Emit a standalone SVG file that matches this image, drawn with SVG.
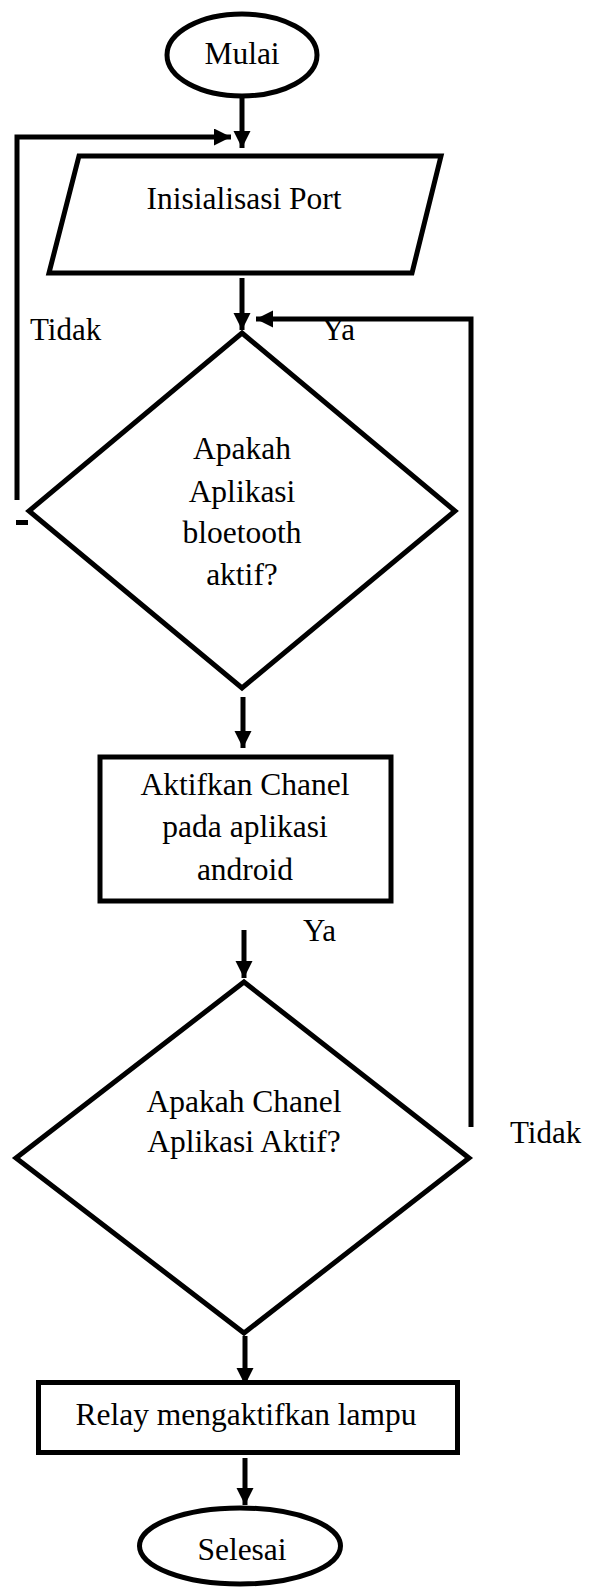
<svg xmlns="http://www.w3.org/2000/svg" width="589" height="1588" viewBox="0 0 589 1588">
<defs>
<marker id="ah" markerUnits="userSpaceOnUse" markerWidth="18" markerHeight="18" refX="17" refY="8.5" orient="auto">
<path d="M0,0 L17,8.5 L0,17 Z" fill="#000"/>
</marker>
<style>
.s{fill:#fff;stroke:#000;stroke-width:5}
.c{fill:none;stroke:#000;stroke-width:5}
.t{font-family:"Liberation Serif","Times New Roman",serif;font-size:31.5px;fill:#000;text-anchor:middle}
.l{font-family:"Liberation Serif","Times New Roman",serif;font-size:31px;fill:#000}
</style>
</defs>
<rect width="589" height="1588" fill="#fff"/>
<g id="connectors">
<line class="c" x1="242" y1="98" x2="242" y2="148" marker-end="url(#ah)"/>
<polyline class="c" points="17,500 17,137 231,137" marker-end="url(#ah)"/>
<rect x="16" y="520" width="12" height="5" fill="#000"/>
<line class="c" x1="242" y1="278" x2="242" y2="330" marker-end="url(#ah)"/>
<polyline class="c" points="471,1127 471,319 256,319" marker-end="url(#ah)"/>
<line class="c" x1="243" y1="697" x2="243" y2="748" marker-end="url(#ah)"/>
<line class="c" x1="244" y1="930" x2="244" y2="978" marker-end="url(#ah)"/>
<line class="c" x1="245" y1="1336" x2="245" y2="1385" marker-end="url(#ah)"/>
<line class="c" x1="245" y1="1458" x2="245" y2="1505" marker-end="url(#ah)"/>
<text class="l" x="30" y="340">Tidak</text>
<text class="l" x="322" y="340">Ya</text>
<text class="l" x="303" y="941">Ya</text>
<text class="l" x="510" y="1143">Tidak</text>
</g>
<g id="mulai">
<ellipse class="s" cx="242" cy="55" rx="75" ry="41"/>
<text class="t" x="242" y="64">Mulai</text>
</g>
<g id="inisialisasi">
<polygon class="s" points="79,156 441,156 412,273 49,273"/>
<text class="t" x="244" y="209">Inisialisasi Port</text>
</g>
<g id="cek-bluetooth">
<polygon class="s" points="242,333 455,511 242,688 29,511"/>
<text class="t" x="242" y="459">Apakah</text>
<text class="t" x="242" y="502">Aplikasi</text>
<text class="t" x="242" y="543">bloetooth</text>
<text class="t" x="242" y="585">aktif?</text>
</g>
<g id="aktifkan-chanel">
<rect class="s" x="100" y="757" width="291" height="144"/>
<text class="t" x="245" y="795">Aktifkan Chanel</text>
<text class="t" x="245" y="837">pada aplikasi</text>
<text class="t" x="245" y="880">android</text>
</g>
<g id="cek-chanel">
<polygon class="s" points="244,982 469,1158 244,1333 16,1158"/>
<text class="t" x="244" y="1112">Apakah Chanel</text>
<text class="t" x="244" y="1152">Aplikasi Aktif?</text>
</g>
<g id="relay">
<rect class="s" x="38.5" y="1382.5" width="419" height="70"/>
<text class="t" x="246" y="1425">Relay mengaktifkan lampu</text>
</g>
<g id="selesai">
<ellipse class="s" cx="240" cy="1546" rx="100.5" ry="38"/>
<text class="t" x="242" y="1560">Selesai</text>
</g>
</svg>
